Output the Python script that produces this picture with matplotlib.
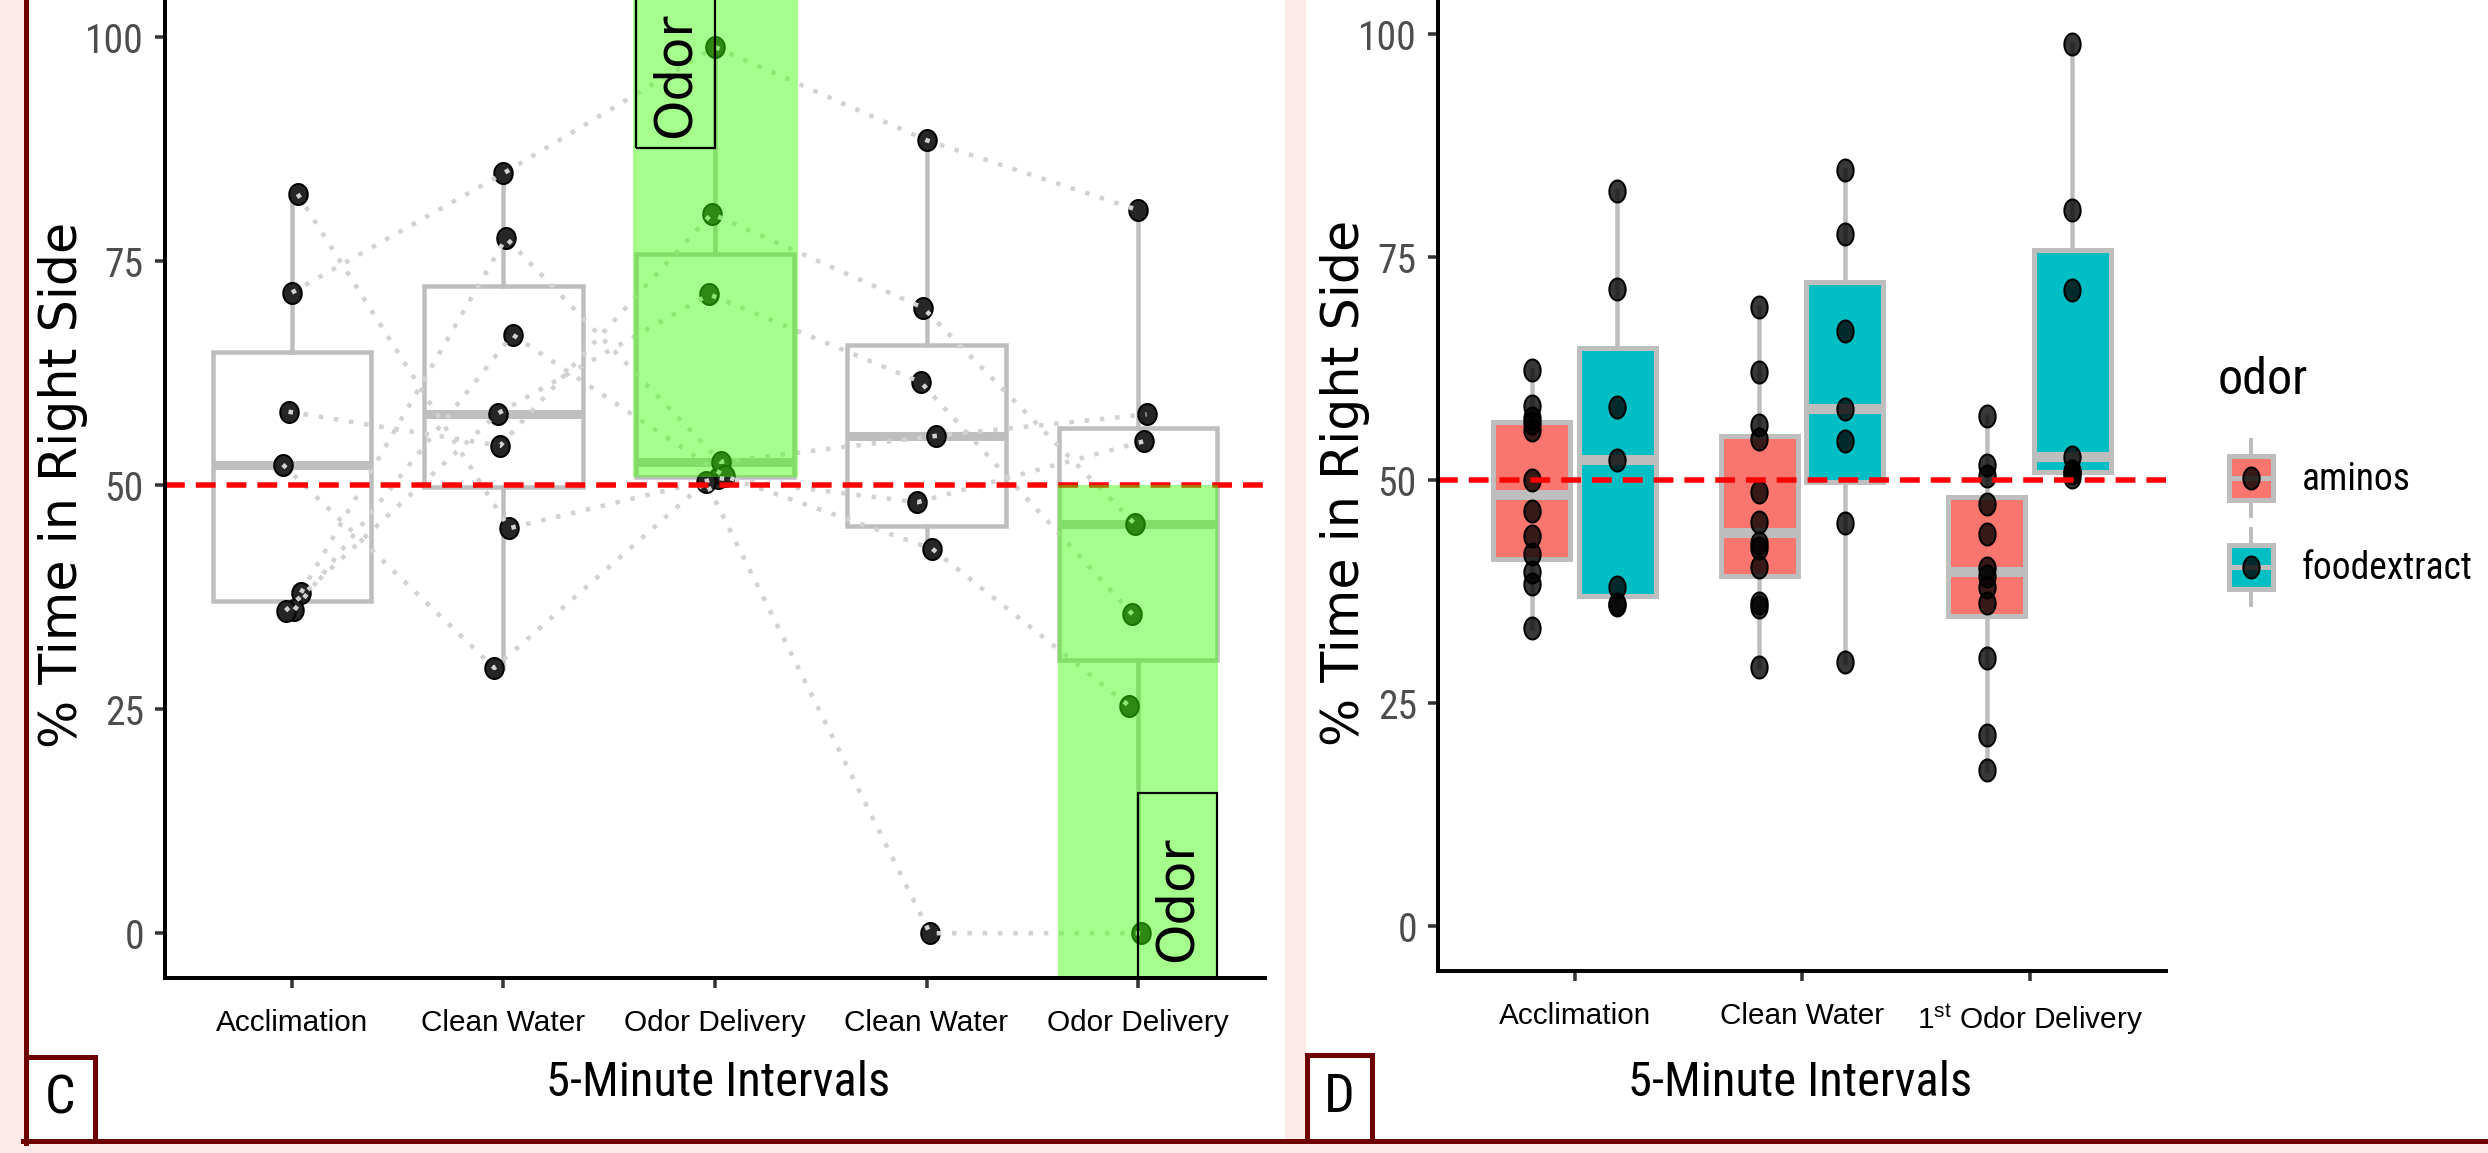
import numpy as np
import matplotlib
matplotlib.use("Agg")
import matplotlib.pyplot as plt
from matplotlib.patches import Rectangle
from matplotlib.lines import Line2D
from matplotlib.path import Path
from matplotlib import font_manager as fm

# ---------------- data ----------------
intervals_c = ["Acclimation", "Clean Water", "Odor Delivery", "Clean Water", "Odor Delivery"]
intervals_d = ["Acclimation", "Clean Water", "1$^{\\mathrm{st}}$ Odor Delivery"]
yticks = [0, 25, 50, 75, 100]

# panel C: seven subjects (same order in every list), one list per interval
c_acclimation = [71.5, 82.5, 52.3, 58.2, 38.0, 36.1, 36.0]
c_clean1 = [84.8, 45.2, 29.6, 54.4, 77.6, 66.8, 58.0]
c_odor1 = [98.9, 50.8, 50.4, 80.3, 52.6, 51.0, 71.3]
c_clean2 = [88.5, 48.1, 0.0, 69.8, 55.5, 42.9, 61.5]
c_odor2 = [80.7, 54.9, 0.0, 45.7, 57.9, 25.4, 35.6]

# horizontal jitter of the points (category units)
j_acc = [0.0, 0.027, -0.043, -0.016, 0.043, 0.012, -0.030]
j_cw1 = [0.0, 0.027, -0.043, -0.016, 0.012, 0.043, -0.027]
j_od1 = [0.0, 0.016, -0.043, -0.016, 0.027, 0.047, -0.027]
j_cw2 = [0.0, -0.043, 0.016, -0.016, 0.043, 0.027, -0.027]
j_od2 = [0.0, 0.027, 0.016, -0.016, 0.040, -0.043, -0.027]

# panel D
odor_groups = ["aminos", "foodextract"]
aminos_acclimation = [62.4, 58.3, 57.0, 56.4, 55.6, 50.1, 46.6, 43.8, 41.7, 39.7, 38.4, 33.5]
aminos_clean = [69.4, 62.1, 56.2, 54.6, 48.7, 45.3, 43.0, 42.4, 40.3, 36.3, 35.8, 29.1]
aminos_odor = [57.2, 51.7, 50.5, 47.3, 44.0, 40.2, 39.3, 38.1, 36.3, 30.1, 21.5, 17.5]
food_acclimation = c_acclimation
food_clean = c_clean1
food_odor = c_odor1

# ---------------- fonts ----------------
names = {f.name for f in fm.fontManager.ttflist}
COND = next((n for n in ["Liberation Sans Narrow", "Roboto Condensed", "Open Sans Condensed"] if n in names), None)
if COND is None:
    COND_KW = dict(family="DejaVu Sans", stretch="condensed")
else:
    COND_KW = dict(family=COND)
ARIAL = "Liberation Sans" if "Liberation Sans" in names else "DejaVu Sans"
plt.rcParams["mathtext.fontset"] = "custom"
plt.rcParams["mathtext.rm"] = ARIAL
plt.rcParams["mathtext.it"] = ARIAL + ":italic"
plt.rcParams["mathtext.bf"] = ARIAL + ":bold"

# ---------------- style ----------------
W, H = 2488, 1153
DPI = 100
PINK = "#fde9e7"
DARKRED = "#6e0000"
BOXGREY = "#bebebe"
DOTGREY = "#d2d2d2"
FILL_A = "#F8766D"
FILL_F = "#00BFC4"
GREEN = (0.23, 1.0, 0.0)
PX = 72.0 / DPI  # points per pixel


def X(px):
    return px / W


def Y(py):
    return 1 - py / H


def ellipse_marker(ratio):
    t = np.linspace(0, 2 * np.pi, 64)
    v = np.column_stack([ratio * np.cos(t), np.sin(t)])
    return Path(v, closed=True)


fig = plt.figure(figsize=(W / DPI, H / DPI), dpi=DPI)
fig.patch.set_facecolor(PINK)

# panel backgrounds
fig.add_artist(Rectangle((X(28), Y(1140)), (1285 - 28) / W, 1140 / H + 0.01,
                         transform=fig.transFigure, facecolor="white", edgecolor="none", zorder=0))
fig.add_artist(Rectangle((X(1306), Y(1140)), (W - 1306) / W, 1140 / H + 0.01,
                         transform=fig.transFigure, facecolor="white", edgecolor="none", zorder=0))


def style_axes(ax, xlabels, xmax):
    ax.set_facecolor("none")
    ax.set_ylim(-5, 105)
    ax.set_xlim(0.4, xmax + 0.6)
    for s in ["top", "right"]:
        ax.spines[s].set_visible(False)
    for s in ["left", "bottom"]:
        ax.spines[s].set_linewidth(4 * PX)
        ax.spines[s].set_color("black")
        ax.spines[s].set_zorder(8)
    ax.set_yticks(yticks)
    ax.set_yticklabels([str(v) for v in yticks], color="#4d4d4d", fontsize=28.5, **COND_KW)
    ax.set_xticks(range(1, xmax + 1))
    ax.set_xticklabels(xlabels, fontsize=21.4, family=ARIAL, color="black")
    ax.tick_params(axis="both", length=10 * PX, width=3.5 * PX, color="#333333")
    ax.tick_params(axis="y", pad=8)
    ax.tick_params(axis="x", pad=15)


# ================= panel C =================
axc = fig.add_axes([X(165), Y(978), 1100 / W, 985.6 / H])
c_intervals = [c_acclimation, c_clean1, c_odor1, c_clean2, c_odor2]
c_jitter = [j_acc, j_cw1, j_od1, j_cw2, j_od2]
pos_c = np.arange(1, 6)
axc.boxplot(c_intervals, positions=pos_c, widths=0.75, showfliers=False, showcaps=False,
            patch_artist=True, whis=1.5,
            boxprops=dict(facecolor="white", edgecolor=BOXGREY, linewidth=4.5 * PX),
            whiskerprops=dict(color=BOXGREY, linewidth=4.5 * PX),
            medianprops=dict(color=BOXGREY, linewidth=9 * PX, solid_capstyle="butt"),
            zorder=2)

xs = np.array([[p + j for j in jit] for p, jit in zip(pos_c, c_jitter)])  # (5, 7)
ys = np.array(c_intervals)
mk_c = ellipse_marker(0.88)
axc.plot(xs.flatten(), ys.flatten(), linestyle="none", marker=mk_c, markersize=21 * PX,
         markerfacecolor="#262626", markeredgecolor="black", markeredgewidth=2 * PX, zorder=3)
for s in range(ys.shape[1]):
    axc.plot(xs[:, s], ys[:, s], color=DOTGREY, linewidth=4.5 * PX,
             linestyle=(0, (1.0, 2.4)), zorder=3.5)

axc.axhline(50, color="red", linewidth=5.5 * PX, dashes=(3.6, 2.0), zorder=4)

# odor delivery shading
axc.add_patch(Rectangle((3 - 0.39, 50.9), 0.78, 60, facecolor=GREEN, alpha=0.45,
                        edgecolor="none", zorder=5))
axc.add_patch(Rectangle((5 - 0.38, -10), 0.76, 60, facecolor=GREEN, alpha=0.45,
                        edgecolor="none", zorder=5))
axc.add_patch(Rectangle((3 - 0.375, 87.6), 0.375, 30, fill=False, edgecolor="black",
                        linewidth=2.2 * PX, zorder=6))
axc.add_patch(Rectangle((5.0, -10), 0.375, 25.6, fill=False, edgecolor="black",
                        linewidth=2.2 * PX, zorder=6))
axc.text(3 - 0.1875, 95.8, "Odor", rotation=90, ha="center", va="center",
         fontsize=37, family="DejaVu Sans", zorder=7)
axc.text(5 + 0.1875, 3.8, "Odor", rotation=90, ha="center", va="center",
         fontsize=37, family="DejaVu Sans", zorder=7)
style_axes(axc, intervals_c, 5)

# ================= panel D =================
axd = fig.add_axes([X(1438), Y(971), 728 / W, 981.2 / H])
amin = [aminos_acclimation, aminos_clean, aminos_odor]
food = [food_acclimation, food_clean, food_odor]
pos_d = np.arange(1, 4)
for vals, off, fc in [(amin, -0.1875, FILL_A), (food, 0.1875, FILL_F)]:
    axd.boxplot(vals, positions=pos_d + off, widths=0.3375, showfliers=False, showcaps=False,
                patch_artist=True, whis=1.5,
                boxprops=dict(facecolor=fc, edgecolor=BOXGREY, linewidth=5 * PX),
                whiskerprops=dict(color=BOXGREY, linewidth=4.5 * PX),
                medianprops=dict(color=BOXGREY, linewidth=10 * PX, solid_capstyle="butt"),
                zorder=2)
mk_d = ellipse_marker(0.74)
for vals, off in [(amin, -0.1875), (food, 0.1875)]:
    for p, v in zip(pos_d, vals):
        axd.plot(np.full(len(v), p + off), v, linestyle="none", marker=mk_d,
                 markersize=22 * PX, markerfacecolor=(0, 0, 0, 0.78),
                 markeredgecolor="black", markeredgewidth=2 * PX, zorder=3)
axd.axhline(50, color="red", linewidth=5.5 * PX, dashes=(3.6, 2.0), zorder=4)
style_axes(axd, intervals_d, 3)

# axis titles
for cx, cy in [(63, 485), (1345, 483)]:
    fig.text(X(cx), Y(cy), "% Time in Right Side", rotation=90, ha="center", va="center",
             fontsize=36.5, family="DejaVu Sans", color="black")
for cx, cy in [(718, 1083), (1800, 1083)]:
    fig.text(X(cx), Y(cy), "5-Minute Intervals", ha="center", va="center",
             fontsize=35, color="black", **COND_KW)

# legend (drawn by hand, ggplot style)
fig.text(X(2218), Y(380), "odor", ha="left", va="center", fontsize=36, color="black", **COND_KW)
for name, fc, cy in [(odor_groups[0], FILL_A, 478), (odor_groups[1], FILL_F, 567)]:
    fig.add_artist(Line2D([X(2251), X(2251)], [Y(cy - 38), Y(cy + 38)], transform=fig.transFigure,
                          color=BOXGREY, linewidth=4 * PX, zorder=1))
    fig.add_artist(Rectangle((X(2229), Y(cy + 22)), 44 / W, 44 / H, transform=fig.transFigure,
                             facecolor=fc, edgecolor=BOXGREY, linewidth=5 * PX, zorder=2))
    fig.add_artist(Line2D([X(2229), X(2273)], [Y(cy), Y(cy)], transform=fig.transFigure,
                          color=BOXGREY, linewidth=5 * PX, zorder=3, solid_capstyle="butt"))
    fig.add_artist(Line2D([X(2251)], [Y(cy)], transform=fig.transFigure, linestyle="none",
                          marker=mk_d, markersize=22 * PX, markerfacecolor=(0, 0, 0, 0.78),
                          markeredgecolor="black", markeredgewidth=2 * PX, zorder=4))
    fig.text(X(2302), Y(cy + 2), name, ha="left", va="center", fontsize=27, color="black", **COND_KW)

# dark red frame pieces and panel letters
fig.add_artist(Line2D([X(25.5), X(25.5)], [Y(1143), 1.01], transform=fig.transFigure,
                      color=DARKRED, linewidth=5 * PX, zorder=10))
fig.add_artist(Line2D([X(23), 1.01], [Y(1141), Y(1141)], transform=fig.transFigure,
                      color=DARKRED, linewidth=5 * PX, zorder=10))
for (x0, x1, y0, letter) in [(26, 95, 1057, "C"), (1307, 1372, 1055, "D")]:
    fig.add_artist(Rectangle((X(x0), Y(1141)), (x1 - x0) / W, (1141 - y0) / H,
                             transform=fig.transFigure, facecolor="white", edgecolor=DARKRED,
                             linewidth=5 * PX, zorder=11))
    fig.text(X((x0 + x1) / 2), Y((y0 + 1141) / 2), letter, ha="center", va="center",
             fontsize=39, color="black", zorder=12, **COND_KW)

fig.savefig("out.png", dpi=DPI, facecolor=fig.get_facecolor())
